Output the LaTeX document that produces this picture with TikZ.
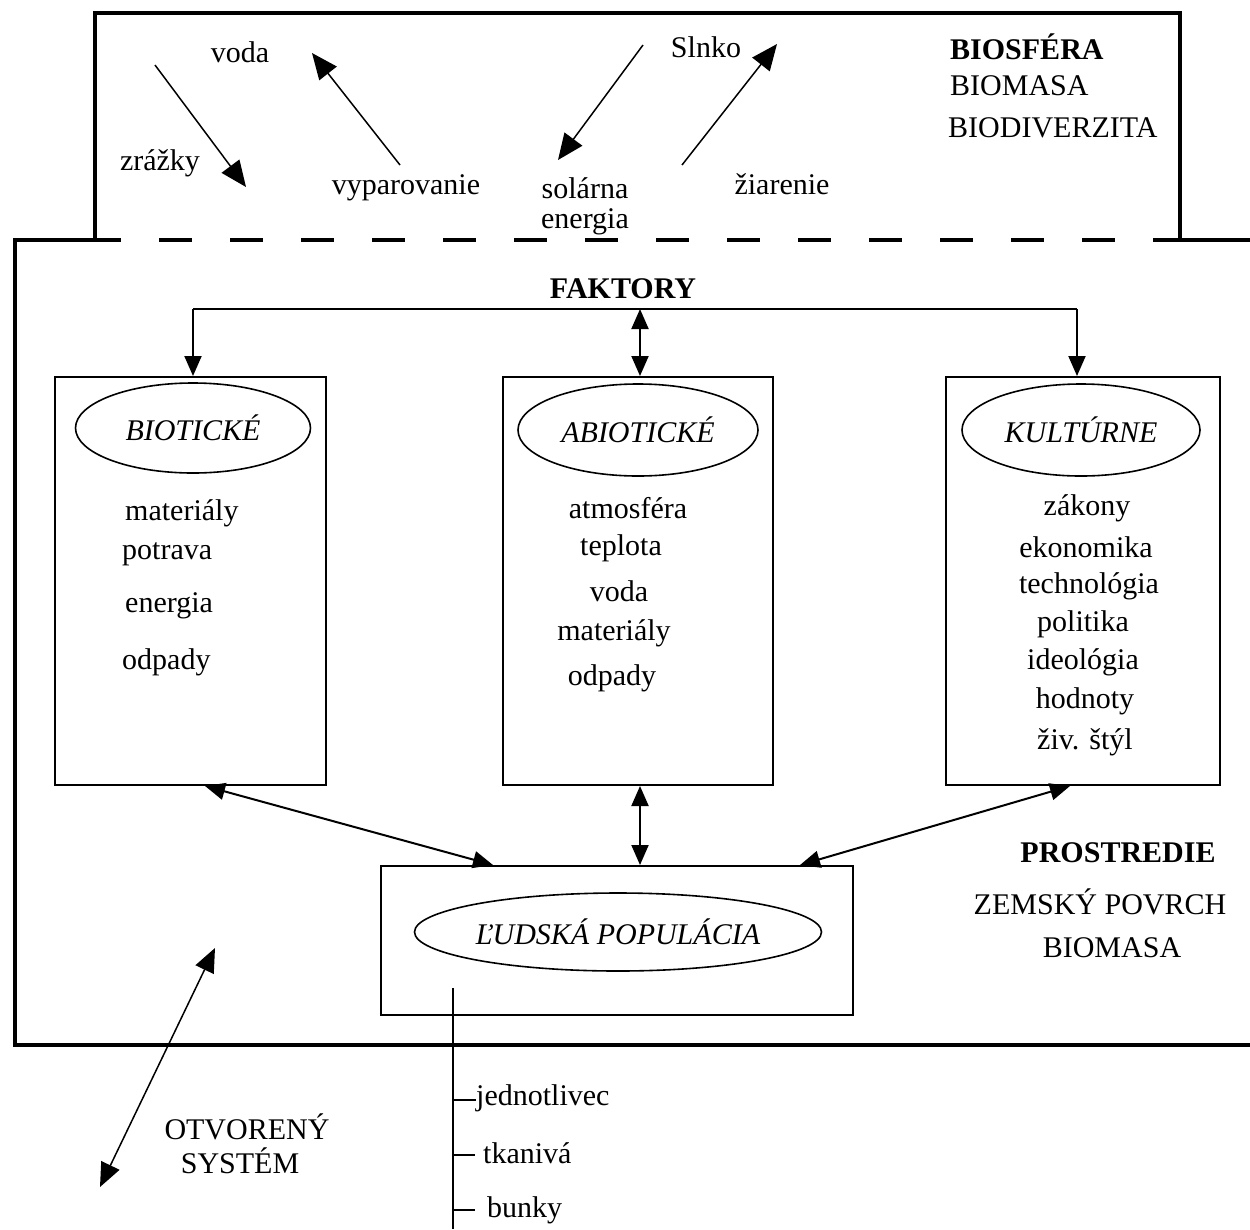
\documentclass[tikz,border=0pt]{standalone}
\usepackage{fontspec}
\setmainfont{Liberation Serif}
\usetikzlibrary{arrows.meta,shapes.geometric}
\tikzset{
  txt/.style={inner sep=0pt, font=\fontsize{30}{35}\selectfont},
  bld/.style={txt, font=\fontsize{30}{35}\selectfont\bfseries},
  frame/.style={line width=4pt},
  fbox/.style={draw, line width=2pt, rectangle, inner sep=0pt},
  oval/.style={draw, line width=1.6pt, ellipse, inner sep=0pt, font=\fontsize{30}{35}\selectfont\itshape},
  conn/.style={line width=2pt, {Triangle[length=20pt,width=17pt]}-{Triangle[length=20pt,width=17pt]}},
  down/.style={line width=2pt, -{Triangle[length=20pt,width=17pt]}},
  thinarr/.style={line width=1.5pt, -{Triangle[length=26pt,width=22pt]}},
  tick/.style={line width=1.5pt}
}
\begin{document}
\begin{tikzpicture}[x=1pt,y=-1pt]
\useasboundingbox (0,0) rectangle (1250,1229);
% frames
\draw[frame] (95,240) -- (95,13) -- (1180,13) -- (1180,240);
\draw[frame, dash pattern=on 33pt off 38pt, dash phase=7pt] (95,240) -- (1180,240);
\draw[frame] (1180,240) -- (1252,240);
\draw[frame] (95,240) -- (15,240) -- (15,1045) -- (1252,1045);

% biosphere texts
\node[txt] (voda) at (240,52) {voda};
\node[txt] (zrazky) at (160,163) {zrážky};
\node[txt] (vypar) at (406,188) {vyparovanie};
\node[txt] (slnko) at (706,47) {Slnko};
\node[txt] (solarna) at (585,188) {solárna};
\node[txt] (energ) at (585,222) {energia};
\node[txt] (ziar) at (782,184) {žiarenie};
\node[bld, anchor=west] (biosf) at (950,47) {BIOSFÉRA};
\node[txt, anchor=west] (biom1) at (950,86) {BIOMASA};
\node[txt, anchor=west] (biodiv) at (948,128) {BIODIVERZITA};

\coordinate (z1) at (155,65);   \coordinate (z2) at (246,187);
\coordinate (v1) at (400,165);  \coordinate (v2) at (312,53);
\coordinate (s1) at (643,45);   \coordinate (s2) at (558,160);
\coordinate (r1) at (682,165);  \coordinate (r2) at (777,44);
\draw[thinarr] (z1) -- (z2);
\draw[thinarr] (v1) -- (v2);
\draw[thinarr] (s1) -- (s2);
\draw[thinarr] (r1) -- (r2);

% factors
\node[bld] (fakt) at (623,289) {FAKTORY};
\node[fbox, minimum width=271pt, minimum height=408pt] (bio) at (190.5,581) {};
\node[fbox, minimum width=270pt, minimum height=408pt] (abio) at (638,581) {};
\node[fbox, minimum width=274pt, minimum height=408pt] (kult) at (1083,581) {};

\draw[down] ([xshift=2.5pt]bio.north) ++(0,-67) coordinate (hl) -- ([xshift=2.5pt]bio.north);
\draw[line width=2pt] (hl) -- ([xshift=-6pt]kult.north |- hl);
\draw[down] ([xshift=-6pt]kult.north |- hl) -- ([xshift=-6pt]kult.north);
\draw[conn] ([xshift=2pt]abio.north) -- ([xshift=2pt]abio.north |- hl);

\node[oval, minimum width=235pt, minimum height=90pt] (ebio) at (193,428) {BIOTICKÉ};
\node[oval, minimum width=240pt, minimum height=92pt] (eabio) at (638,430) {ABIOTICKÉ};
\node[oval, minimum width=238pt, minimum height=92pt] (ekult) at (1081,430) {KULTÚRNE};

\node[txt, anchor=west] (b1) at (125,513) {materiály};
\node[txt, anchor=west] (b2) at (122,554) {potrava};
\node[txt, anchor=west] (b3) at (125,606) {energia};
\node[txt, anchor=west] (b4) at (122,662) {odpady};

\node[txt] (a1) at (628,508) {atmosféra};
\node[txt] (a2) at (621,548) {teplota};
\node[txt] (a3) at (619,591) {voda};
\node[txt] (a4) at (614,633) {materiály};
\node[txt] (a5) at (612,678) {odpady};

\node[txt] (k1) at (1087,508) {zákony};
\node[txt] (k2) at (1086,547) {ekonomika};
\node[txt] (k3) at (1089,586) {technológia};
\node[txt] (k4) at (1083,624) {politika};
\node[txt] (k5) at (1083,662) {ideológia};
\node[txt] (k6) at (1085,701) {hodnoty};
\node[txt] (k7) at (1085,742) {živ. štýl};

% human population
\node[fbox, minimum width=472pt, minimum height=149pt] (lpop) at (617,940.5) {};
\node[oval, minimum width=407pt, minimum height=78pt] (elpop) at (618,932) {ĽUDSKÁ POPULÁCIA};

\draw[conn] ([xshift=14.5pt]bio.south) -- ([xshift=-124pt]lpop.north);
\draw[conn] ([xshift=2pt]abio.south) -- ([xshift=23pt]lpop.north);
\draw[conn] ([xshift=-13pt]kult.south) -- ([xshift=183pt]lpop.north);

% environment
\node[bld] (prost) at (1118,853) {PROSTREDIE};
\node[txt] (zem) at (1100,902) {ZEMSKÝ POVRCH};
\node[txt] (biom2) at (1112,948) {BIOMASA};

% open system
\node[txt] (otv) at (247,1127) {OTVORENÝ};
\node[txt] (sys) at (240,1161) {SYSTÉM};
\coordinate (o1) at (215,948);
\coordinate (o2) at (100,1187);
\draw[line width=1.5pt, {Triangle[length=24pt,width=20pt]}-{Triangle[length=24pt,width=20pt]}] (o1) -- (o2);

% levels
\coordinate (vt) at (453,988);
\coordinate (vb) at (453,1229);
\draw[tick] (vt) -- (vb);
\node[txt, anchor=west] (j1) at (476,1098) {jednotlivec};
\node[txt, anchor=west] (j2) at (483,1153) {tkanivá};
\node[txt, anchor=west] (j3) at (487,1210) {bunky};
\draw[tick] (453,1100) -- (j1.west |- 453,1100);
\draw[tick] (453,1155) -- (475,1155);
\draw[tick] (453,1210) -- (475,1210);
\end{tikzpicture}
\end{document}
